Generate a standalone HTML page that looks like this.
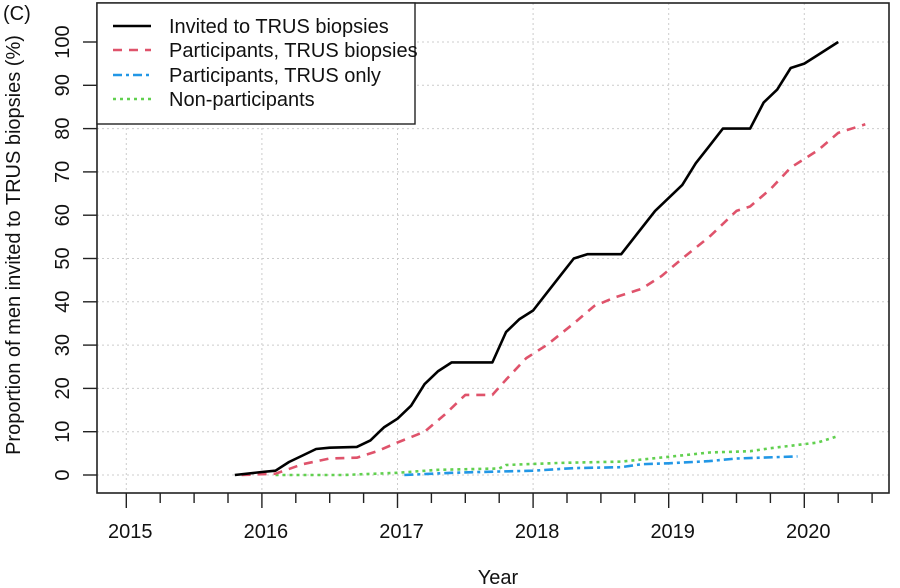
<!DOCTYPE html>
<html><head><meta charset="utf-8"><style>
html,body{margin:0;padding:0;background:#fff;}
svg{display:block;font-family:"Liberation Sans",Arial,sans-serif;}
</style></head><body>
<svg id="chart" width="900" height="588" viewBox="0 0 900 588">
<g id="grid"></g>
<g id="series"></g>
<rect x="97" y="3" width="792" height="490" fill="none" stroke="#222" stroke-width="1.6"/>
<g id="axes"></g>
<text x="3" y="20" font-size="20" fill="#111">(C)</text>
<text transform="translate(20,245) rotate(-90)" text-anchor="middle" font-size="20" fill="#111">Proportion of men invited to TRUS biopsies (%)</text>
<text x="498" y="584" text-anchor="middle" font-size="20" fill="#111">Year</text>
<g>
<rect x="97" y="3" width="318" height="121" fill="#fff" stroke="#222" stroke-width="1.4"/>
<line x1="113" y1="26" x2="151" y2="26" stroke="#000" stroke-width="2.5"/>
<text x="169" y="33" font-size="20" fill="#111">Invited to TRUS biopsies</text>
<line x1="113" y1="50" x2="151" y2="50" stroke="#DF536B" stroke-width="2.5" stroke-dasharray="9,7"/>
<text x="169" y="57" font-size="20" fill="#111">Participants, TRUS biopsies</text>
<line x1="113" y1="75" x2="151" y2="75" stroke="#2297E6" stroke-width="2.5" stroke-dasharray="9,4,3,4"/>
<text x="169" y="82" font-size="20" fill="#111">Participants, TRUS only</text>
<line x1="113" y1="99" x2="151" y2="99" stroke="#61D04F" stroke-width="2.5" stroke-dasharray="3,4"/>
<text x="169" y="106" font-size="20" fill="#111">Non-participants</text>
</g>
</svg>
<script>
const xTicks = [2015, 2016, 2017, 2018, 2019, 2020];
const yTicks = [0, 10, 20, 30, 40, 50, 60, 70, 80, 90, 100];
const invitedX = [2015.8,2016.0,2016.1,2016.2,2016.3,2016.4,2016.5,2016.7,2016.8,2016.9,2017.0,2017.1,2017.2,2017.3,2017.4,2017.7,2017.8,2017.9,2018.0,2018.1,2018.2,2018.3,2018.4,2018.65,2018.75,2018.9,2019.0,2019.1,2019.2,2019.3,2019.4,2019.6,2019.7,2019.8,2019.9,2020.0,2020.1,2020.25];
const invitedY = [0,0.7,1,3,4.5,6,6.3,6.5,8,11,13,16,21,24,26,26,33,36,38,42,46,50,51,51,55,61,64,67,72,76,80,80,86,89,94,95,97,100];
const partBiopX = [2015.85,2016.1,2016.3,2016.5,2016.7,2016.85,2017.0,2017.2,2017.35,2017.5,2017.7,2017.8,2017.95,2018.1,2018.3,2018.45,2018.6,2018.8,2018.95,2019.1,2019.3,2019.5,2019.6,2019.75,2019.9,2020.1,2020.25,2020.45];
const partBiopY = [0,0.3,2.5,3.8,4,5.5,7.5,10,14,18.5,18.5,22,27,30,35,39,41,43,46,50,55,61,62,66,71,75,79,81];
const trusOnlyX = [2017.05,2017.4,2017.75,2018.0,2018.3,2018.65,2018.8,2019.0,2019.3,2019.5,2019.95];
const trusOnlyY = [0,0.5,0.8,1,1.6,1.8,2.5,2.7,3.2,3.8,4.3];
const nonPartX = [2016.1,2016.6,2017.0,2017.3,2017.75,2017.8,2018.2,2018.65,2019.0,2019.3,2019.6,2019.75,2020.1,2020.25];
const nonPartY = [0,0,0.5,1.2,1.5,2.3,2.8,3.1,4.2,5.2,5.5,6.2,7.5,9];

const NS = 'http://www.w3.org/2000/svg';
const xs = v => 126.3 + (v - 2015) * 135.6;
const ys = v => 475 - v * 4.33;
const grid = document.getElementById('grid');
const axes = document.getElementById('axes');
const series = document.getElementById('series');
function mk(tag, attrs, parent) {
  const e = document.createElementNS(NS, tag);
  for (const k in attrs) e.setAttribute(k, attrs[k]);
  parent.appendChild(e);
  return e;
}
xTicks.forEach(t => {
  const g = mk('line', {x1: xs(t), x2: xs(t), y1: 3, y2: 493, stroke: '#ccc', 'stroke-width': 1, 'stroke-dasharray': '2,3'}, grid);
  
  
  const lb = mk('text', {x: xs(t) + 4, y: 538, 'text-anchor': 'middle', 'font-size': 20, fill: '#111'}, axes);
  lb.textContent = t;
  
  
});
for (let q = 0; q <= 22; q++) {
  const v = 2015 + q * 0.25;
  const major = q % 4 === 0;
  const tk = mk('line', {x1: xs(v), x2: xs(v), y1: 493, y2: major ? 508 : 503, stroke: '#222', 'stroke-width': 1.4}, axes);
  
  
}
yTicks.forEach(t => {
  const g = mk('line', {x1: 97, x2: 889, y1: ys(t), y2: ys(t), stroke: '#ccc', 'stroke-width': 1, 'stroke-dasharray': '2,3'}, grid);
  
  
  const tk = mk('line', {x1: 83, x2: 97, y1: ys(t), y2: ys(t), stroke: '#222', 'stroke-width': 1.4}, axes);
  
  
  const lb = mk('text', {transform: `translate(69,${ys(t)}) rotate(-90)`, 'text-anchor': 'middle', 'font-size': 20, fill: '#111'}, axes);
  lb.textContent = t;
  
  
});
function line(X, Y, color, dash) {
  const d = X.map((x, i) => (i ? 'L' : 'M') + xs(x).toFixed(1) + ',' + ys(Y[i]).toFixed(1)).join(' ');
  const p = mk('path', {d, fill: 'none', stroke: color, 'stroke-width': 2.6, 'stroke-linejoin': 'round'}, series);
  if (dash) p.setAttribute('stroke-dasharray', dash);
  return p;
}
const p4 = line(nonPartX, nonPartY, '#61D04F', '3,4');


const p3 = line(trusOnlyX, trusOnlyY, '#2297E6', '9,4,3,4');


const p2 = line(partBiopX, partBiopY, '#DF536B', '9,7');


const p1 = line(invitedX, invitedY, '#000', null);


</script>
</body></html>
